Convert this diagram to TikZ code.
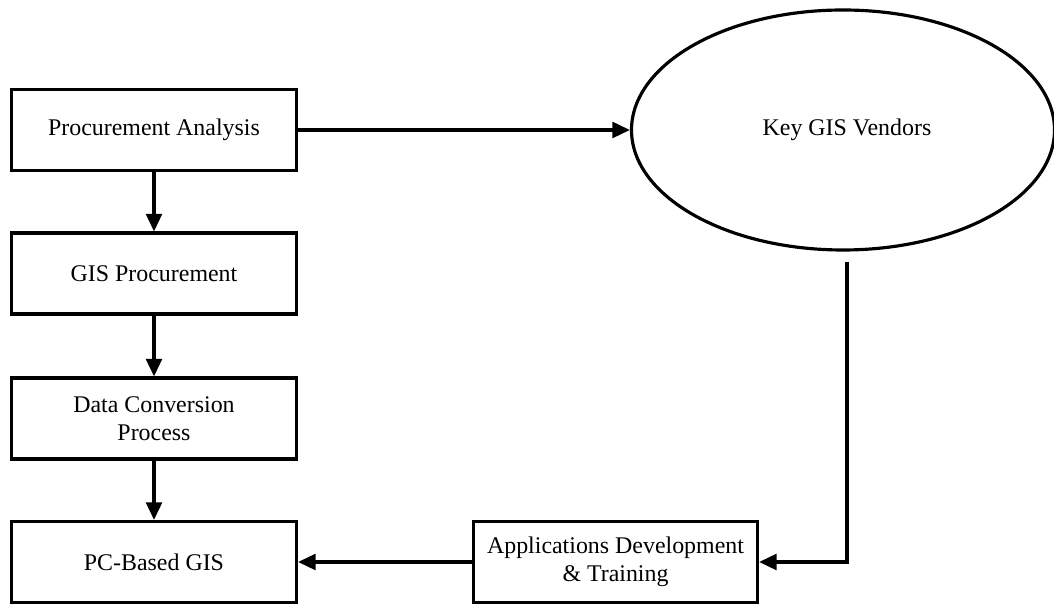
\documentclass[tikz,border=0pt]{standalone}
\usepackage{fontspec}
\setmainfont{Liberation Serif}
\usetikzlibrary{shapes.geometric, arrows.meta, positioning}

\begin{document}
\begin{tikzpicture}[
        font=\fontsize{13.6}{16}\selectfont,
        stage/.style  = {rectangle, draw, line width=1.8pt, minimum width=5.7cm, minimum height=1.62cm, align=center, inner sep=0pt},
        vendor/.style = {ellipse, draw, line width=1.8pt, minimum width=8.46cm, minimum height=4.8cm, inner sep=0pt},
        flow/.style   = {draw, line width=1.8pt, -{Triangle[length=10pt,width=9pt]}}
    ]
    \useasboundingbox (0,0) rectangle (21.08,12.1);

    % --- LEFT COLUMN: procurement chain ---
    \node[stage] (procan)   at (3.08, 9.5)  {Procurement Analysis};
    \node[stage] (gisproc)  at (3.08, 6.63) {GIS Procurement};
    \node[stage] (dataconv) at (3.08, 3.73) {Data Conversion\\ Process};
    \node[stage] (pcgis)    at (3.08, 0.86) {PC-Based GIS};

    % --- RIGHT SIDE: vendors and applications ---
    \node[vendor] (vendors) at (16.86, 9.5) {\hspace*{0.16cm}Key GIS Vendors};
    \node[stage, minimum width=5.68cm] (appdev) at (12.31, 0.86) {Applications Development\\ \& Training};

    % --- FLOWS ---
    \draw[flow] (procan) -- (gisproc);
    \draw[flow] (gisproc) -- (dataconv);
    \draw[flow] (dataconv) -- (pcgis);
    \draw[flow] (procan.east) -- (vendors.west);
    \draw[flow] ([xshift=0.08cm, yshift=-0.21cm]vendors.south) |- (appdev.east);
    \draw[flow] (appdev.west) -- (pcgis.east);

\end{tikzpicture}
\end{document}
